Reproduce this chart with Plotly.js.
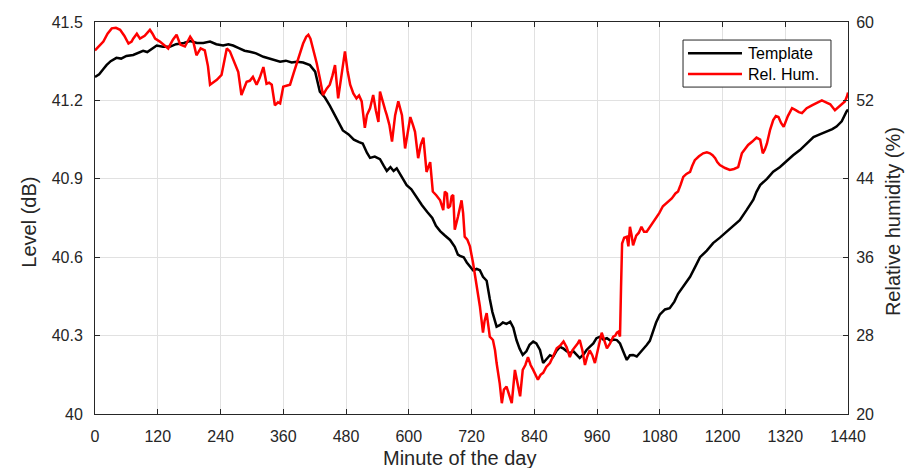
<!DOCTYPE html>
<html>
<head>
<meta charset="utf-8">
<script src="https://cdn.plot.ly/plotly-3.0.1.min.js"></script>
<style>html,body{margin:0;padding:0;background:#fff;}#chart{width:911px;height:468px;}</style>
</head>
<body>
<div id="chart"></div>
<script>
// Template level (dB) vs minute of the day
const tplMinutes = [0,8,16,22,30,41,50,60,73,80,92,100,110,118,130,143,155,170,182,195,207,220,232,245,255,264,275,286,296,308,322,335,345,354,365,376,386,398,411,421,430,440,449,457,465,474,485,495,505,512,520,526,535,545,552,558,565,571,577,583,590,596,605,616,625,635,645,652,660,668,679,688,694,698,705,711,717,723,730,736,742,749,755,760,768,774,780,787,794,800,806,812,818,825,831,838,844,851,857,863,870,876,882,889,896,902,908,915,921,927,935,940,946,953,959,966,972,979,986,992,998,1004,1010,1017,1023,1029,1036,1042,1048,1055,1061,1067,1073,1080,1090,1099,1108,1115,1125,1138,1147,1157,1170,1182,1195,1208,1220,1233,1246,1259,1265,1272,1285,1297,1310,1323,1335,1348,1361,1374,1386,1399,1410,1418,1428,1437,1440];
const tplLevel = [41.29,41.30,41.32,41.335,41.35,41.363,41.36,41.37,41.374,41.38,41.39,41.385,41.40,41.41,41.405,41.405,41.415,41.42,41.427,41.42,41.42,41.425,41.415,41.41,41.415,41.41,41.40,41.39,41.386,41.38,41.367,41.36,41.355,41.348,41.352,41.345,41.348,41.345,41.335,41.31,41.233,41.21,41.18,41.15,41.12,41.085,41.07,41.05,41.04,41.035,41.00,40.98,40.985,40.975,40.95,40.93,40.945,40.93,40.94,40.92,40.895,40.876,40.86,40.826,40.80,40.774,40.75,40.72,40.70,40.685,40.666,40.64,40.61,40.605,40.60,40.58,40.564,40.55,40.555,40.55,40.525,40.51,40.44,40.39,40.334,40.34,40.35,40.345,40.353,40.33,40.283,40.25,40.226,40.24,40.265,40.277,40.27,40.245,40.195,40.21,40.225,40.219,40.24,40.257,40.25,40.24,40.233,40.24,40.225,40.214,40.23,40.245,40.257,40.27,40.29,40.296,40.285,40.29,40.28,40.285,40.283,40.27,40.24,40.207,40.225,40.226,40.22,40.233,40.245,40.264,40.28,40.315,40.35,40.38,40.40,40.405,40.43,40.46,40.49,40.525,40.56,40.60,40.625,40.654,40.675,40.697,40.72,40.742,40.78,40.82,40.85,40.876,40.90,40.927,40.945,40.97,40.99,41.01,41.035,41.06,41.07,41.08,41.09,41.10,41.12,41.157,41.165];

// Relative humidity (%) vs minute of the day
const rhMinutes = [0,8,16,24,32,40,48,56,64,70,73,80,86,95,105,110,115,124,132,140,149,156,163,172,182,188,194,202,210,216,220,226,233,242,247,252,258,264,268,274,280,285,290,296,302,309,315,322,328,333,338,344,350,354,360,366,373,380,386,392,398,404,408,412,417,424,430,436,443,449,454,459,465,471,478,483,488,494,500,505,510,516,520,526,532,537,542,545,550,555,558,563,568,574,580,587,593,598,603,608,612,618,623,628,634,641,646,653,660,666,669,673,675,679,682,685,688,694,701,704,707,712,717,723,727,730,736,742,745,749,755,761,765,768,774,778,782,787,792,797,803,808,813,818,823,828,833,838,843,847,852,857,863,870,877,883,890,896,902,908,913,918,923,927,932,937,941,946,951,956,962,969,974,979,985,991,995,998,1001,1004,1006,1008,1012,1017,1020,1023,1026,1029,1035,1040,1045,1050,1055,1063,1071,1079,1086,1095,1103,1110,1115,1120,1125,1131,1138,1142,1147,1155,1163,1170,1176,1181,1186,1190,1195,1205,1214,1222,1230,1237,1243,1249,1257,1265,1272,1277,1281,1285,1291,1297,1302,1307,1312,1317,1325,1333,1340,1346,1352,1361,1371,1380,1390,1398,1406,1415,1422,1429,1434,1438,1440];
const rhValues = [57.1,57.5,58.0,58.8,59.35,59.4,59.2,58.6,57.8,58.0,58.3,58.8,58.3,58.6,59.2,58.8,58.3,58.0,57.6,57.3,58.2,58.7,57.7,57.5,58.5,58.0,56.6,57.3,57.1,55.5,53.6,53.8,54.1,54.6,56.0,57.3,57.0,56.2,55.6,54.9,52.55,53.2,53.9,54.0,54.4,53.6,54.3,55.4,53.7,53.8,53.6,51.5,51.8,51.7,53.4,53.5,53.6,54.8,55.8,56.8,57.8,58.5,58.7,58.3,57.3,55.8,54.25,52.55,53.2,53.6,54.5,55.6,52.2,54.5,57.0,55.0,53.6,52.7,52.2,52.5,51.9,49.2,50.5,51.2,52.55,51.0,49.8,52.9,51.8,51.0,50.5,49.5,47.8,50.5,51.9,50.5,47.1,48.5,50.3,49.5,48.8,46.1,47.5,48.2,44.7,45.7,42.7,42.3,41.8,40.8,42.7,42.5,41.0,41.2,42.2,42.35,38.8,40.1,41.8,40.5,38.1,37.8,37.1,35.4,34.0,33.4,31.0,28.3,29.5,30.3,27.9,27.55,26.5,25.2,23.1,21.1,22.5,22.8,22.0,21.1,24.5,23.0,21.8,24.5,25.0,25.8,25.0,24.5,24.0,23.5,24.0,24.2,24.8,25.2,26.0,26.7,27.0,27.4,26.8,25.8,26.5,26.8,27.2,27.55,26.5,25.0,25.8,26.5,26.0,25.2,26.8,28.3,27.5,26.7,27.2,27.9,28.0,28.3,28.4,27.9,33.0,37.4,38.0,38.1,37.1,39.1,38.3,37.2,38.2,38.5,39.1,38.6,38.6,39.2,39.8,40.5,41.2,41.6,42.0,42.5,42.7,43.4,44.2,44.5,44.7,45.3,45.9,46.3,46.6,46.7,46.6,46.4,46.1,45.7,45.4,45.1,44.9,45.0,45.2,46.6,47.0,47.45,47.8,48.2,48.0,46.6,47.0,47.6,49.0,50.0,50.4,50.3,49.7,49.3,50.4,51.2,51.0,50.8,50.7,51.2,51.5,51.7,52.0,51.8,51.6,51.0,51.3,51.6,51.9,52.4,52.8];

const seriesNames = ["Template", "Rel. Hum."];
const seriesColors = ["#000000", "#ff0000"];

const xTicks = [0,120,240,360,480,600,720,840,960,1080,1200,1320,1440];
const yTicks = [40,40.3,40.6,40.9,41.2,41.5];
const yTickLabels = ["40","40.3","40.6","40.9","41.2","41.5"];
const y2Ticks = [20,28,36,44,52,60];

const FONT = "Liberation Sans, Arial, Helvetica, sans-serif";
const INK = "#262626";
const GRID = "#e1e1e1";

const traces = [
  {x: tplMinutes, y: tplLevel, name: seriesNames[0], type: "scatter", mode: "lines",
   line: {color: seriesColors[0], width: 2.5}, yaxis: "y", showlegend: false},
  {x: rhMinutes, y: rhValues, name: seriesNames[1], type: "scatter", mode: "lines",
   line: {color: seriesColors[1], width: 2.5}, yaxis: "y2", showlegend: false}
];

// legend box drawn in paper coordinates (MATLAB-style legend)
const legBox = {x0: 0.7809, x1: 0.9774, y0: 0.834, y1: 0.954};
const legRows = [0.9202, 0.8673];
const legLine = {x0: 0.7875, x1: 0.8592};
const legTextX = 0.8645;

const shapes = [
  {type: "rect", xref: "paper", yref: "paper", x0: legBox.x0, x1: legBox.x1, y0: legBox.y0, y1: legBox.y1,
   line: {color: INK, width: 1}, fillcolor: "#ffffff", layer: "above"}
];
const legendTexts = [];
seriesNames.forEach((nm, i) => {
  shapes.push({type: "line", xref: "paper", yref: "paper", x0: legLine.x0, x1: legLine.x1,
    y0: legRows[i], y1: legRows[i], line: {color: seriesColors[i], width: 2.5}, layer: "above"});
  legendTexts.push({text: nm, xref: "paper", yref: "paper", x: legTextX, y: legRows[i],
    xanchor: "left", yanchor: "middle", showarrow: false,
    font: {family: FONT, size: 16, color: "#000000"}});
});

const layout = {
  width: 911, height: 468,
  margin: {l: 95, r: 63, t: 22, b: 54},
  paper_bgcolor: "#ffffff", plot_bgcolor: "#ffffff",
  font: {family: FONT, size: 16, color: INK},
  showlegend: false,
  xaxis: {range: [0, 1440], tickvals: xTicks, ticktext: xTicks.map(String),
    ticks: "inside", ticklen: 5, tickcolor: INK, tickwidth: 1,
    showline: true, linecolor: INK, linewidth: 1, mirror: "ticks",
    showgrid: true, gridcolor: GRID, gridwidth: 1, zeroline: false,
    tickfont: {family: FONT, size: 16, color: INK}, ticklabelstandoff: 8},
  yaxis: {range: [40, 41.5], tickvals: yTicks, ticktext: yTickLabels,
    ticks: "inside", ticklen: 5, tickcolor: INK, tickwidth: 1,
    showline: true, linecolor: INK, linewidth: 1, mirror: false,
    showgrid: true, gridcolor: GRID, gridwidth: 1, zeroline: false,
    tickfont: {family: FONT, size: 16, color: INK}, ticklabelstandoff: 8},
  yaxis2: {range: [20, 60], tickvals: y2Ticks, ticktext: y2Ticks.map(String),
    overlaying: "y", side: "right", anchor: "x",
    ticks: "inside", ticklen: 5, tickcolor: INK, tickwidth: 1,
    showline: true, linecolor: INK, linewidth: 1,
    showgrid: false, zeroline: false,
    tickfont: {family: FONT, size: 16, color: INK}, ticklabelstandoff: 4},
  shapes: shapes,
  annotations: [
    {text: "Minute of the day", xref: "paper", yref: "paper", x: 0.4834, y: -0.112,
     xanchor: "center", yanchor: "middle", showarrow: false,
     font: {family: FONT, size: 20, color: INK}},
    {text: "Level (dB)", xref: "paper", yref: "paper", x: -0.088, y: 0.49,
     xanchor: "center", yanchor: "middle", showarrow: false, textangle: -90,
     font: {family: FONT, size: 20, color: INK}},
    {text: "Relative humidity (%)", xref: "paper", yref: "paper", x: 1.06, y: 0.49,
     xanchor: "center", yanchor: "middle", showarrow: false, textangle: -90,
     font: {family: FONT, size: 20, color: INK}}
  ].concat(legendTexts)
};

Plotly.newPlot("chart", traces, layout, {displayModeBar: false, staticPlot: true});
</script>
</body>
</html>
